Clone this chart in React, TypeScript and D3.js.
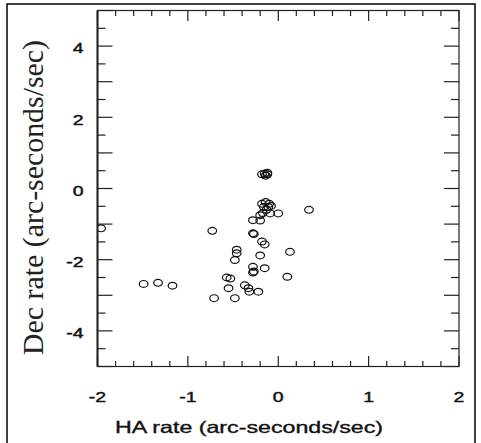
import * as d3 from "d3";
import { useRef, useEffect } from "react";

// HA rate / Dec rate pairs (arc-seconds/sec)
const haRate = [
  -1.96, -1.49, -1.33, -1.17, -0.73, -0.71, -0.57, -0.53, -0.55, -0.48,
  -0.46, -0.46, -0.48, -0.37, -0.33, -0.32, -0.22, -0.28, -0.2, -0.28,
  -0.27, -0.18, -0.15, -0.2, -0.28, -0.28, -0.27, -0.15, 0.1, 0.13,
  0.34, -0.17, -0.09, 0.0, -0.13, -0.18, -0.15, -0.12, -0.14, -0.12,
  -0.18, -0.14, -0.1, -0.16, -0.11, -0.08, -0.2,
];
const decRate = [
  -1.12, -2.68, -2.65, -2.73, -1.19, -3.08, -2.5, -2.53, -2.8, -3.08,
  -1.72, -1.82, -2.01, -2.72, -2.8, -2.9, -2.9, -0.89, -0.9, -1.26,
  -1.28, -1.49, -1.57, -1.88, -2.2, -2.36, -2.33, -2.24, -2.48, -1.78,
  -0.6, -0.69, -0.7, -0.7, -0.6, 0.4, 0.42, 0.4, 0.36, 0.44,
  -0.43, -0.38, -0.43, -0.52, -0.52, -0.49, -0.75,
];

const xTicks = [-2, -1, 0, 1, 2];
const yTicks = [-4, -2, 0, 2, 4];
const xLabel = "HA rate (arc-seconds/sec)";
const yLabel = "Dec rate (arc-seconds/sec)";

export default function App() {
  const ref = useRef<SVGSVGElement>(null);

  useEffect(() => {
    const width = 481;
    const height = 443;
    const left = 97.5, right = 459, top = 10.5, bottom = 366.5;

    const x = d3.scaleLinear().domain([-2, 2]).range([left, right]);
    const y = d3.scaleLinear().domain([-5, 5]).range([bottom, top]);

    const svg = d3.select(ref.current)
      .attr("width", width)
      .attr("height", height)
      .attr("viewBox", `0 0 ${width} ${height}`);

    svg.selectAll("*").remove();

    svg.append("rect")
      .attr("width", width).attr("height", height).attr("fill", "#fff");

    // outer frame
    svg.append("rect")
      .attr("x", 7).attr("y", 4)
      .attr("width", 468).attr("height", 460)
      .attr("fill", "none").attr("stroke", "#000").attr("stroke-width", 1.5);

    // data
    const pts = haRate.map((h, i) => ({ h, d: decRate[i] }));
    const plot = svg.append("g");
    plot.append("clipPath").attr("id", "clip")
      .append("rect")
      .attr("x", left).attr("y", top)
      .attr("width", right - left).attr("height", bottom - top);
    plot.append("g")
      .attr("clip-path", "url(#clip)")
      .selectAll("ellipse")
      .data(pts)
      .join("ellipse")
        .attr("cx", p => x(p.h))
        .attr("cy", p => y(p.d))
        .attr("rx", 4.3)
        .attr("ry", 3.4)
        .attr("fill", "none")
        .attr("stroke", "#111")
        .attr("stroke-width", 1.2);

    // box
    const box = svg.append("g").attr("stroke", "#222").attr("fill", "none");
    box.append("rect")
      .attr("x", left).attr("y", top)
      .attr("width", right - left).attr("height", bottom - top)
      .attr("stroke-width", 1.2);
    box.append("line")
      .attr("x1", left).attr("x2", left).attr("y1", top).attr("y2", bottom)
      .attr("stroke-width", 2);

    // ticks
    const xMinor = d3.range(-2, 2.001, 0.2);
    const yMinor = d3.range(-5, 5.001, 0.5);
    const isMajor = (v: number) => Math.abs(v - Math.round(v)) < 1e-6;
    const ticks = svg.append("g").attr("stroke", "#222").attr("stroke-width", 1.2);

    xMinor.forEach(v => {
      const len = isMajor(v) ? 10.5 : 5.5;
      const px = x(v);
      ticks.append("line").attr("x1", px).attr("x2", px).attr("y1", top).attr("y2", top + len);
      ticks.append("line").attr("x1", px).attr("x2", px).attr("y1", bottom).attr("y2", bottom - len);
    });
    yMinor.forEach(v => {
      const len = (v % 1 === 0) ? 15 : 8;
      const py = y(v);
      ticks.append("line").attr("x1", left).attr("x2", left + len).attr("y1", py).attr("y2", py);
      ticks.append("line").attr("x1", right).attr("x2", right - len).attr("y1", py).attr("y2", py);
    });

    // tick labels
    const fmt = (v: number) => (v < 0 ? "-" + Math.abs(v) : String(v));
    const labels = svg.append("g")
      .attr("font-family", "'Liberation Sans', Arial, sans-serif")
      .attr("font-size", 15)
      .attr("fill", "#111")
      .attr("stroke", "#111")
      .attr("stroke-width", 0.45);

    labels.selectAll(".xt")
      .data(xTicks)
      .join("text")
        .attr("class", "xt")
        .attr("text-anchor", "middle")
        .attr("transform", d => `translate(${x(d)},401.5) scale(1.3,1)`)
        .text(fmt);

    labels.selectAll(".yt")
      .data(yTicks)
      .join("text")
        .attr("class", "yt")
        .attr("text-anchor", "end")
        .attr("dy", "0.35em")
        .attr("transform", d => `translate(83.5,${y(d) + 2}) scale(1.3,1)`)
        .text(fmt);

    // axis titles
    svg.append("text")
      .attr("x", 249).attr("y", 433)
      .attr("text-anchor", "middle")
      .attr("font-family", "'Liberation Sans', Arial, sans-serif")
      .attr("font-size", 16.5)
      .attr("fill", "#111")
      .attr("stroke", "#111")
      .attr("stroke-width", 0.35)
      .attr("textLength", 268)
      .attr("lengthAdjust", "spacingAndGlyphs")
      .text(xLabel);

    svg.append("text")
      .attr("transform", "translate(43,197.5) rotate(-90)")
      .attr("text-anchor", "middle")
      .attr("font-family", "'Liberation Serif', 'Times New Roman', serif")
      .attr("font-size", 30)
      .attr("fill", "#222")
      .attr("textLength", 315)
      .attr("lengthAdjust", "spacingAndGlyphs")
      .text(yLabel);
  }, []);

  return (
    <div style={{ position: "absolute", left: 0, top: 0 }}>
      <svg ref={ref} style={{ display: "block" }}></svg>
    </div>
  );
}
